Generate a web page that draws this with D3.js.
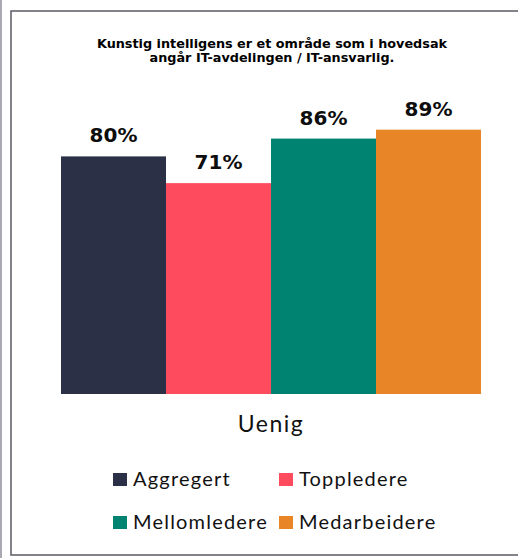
<!DOCTYPE html>
<html>
<head>
<meta charset="utf-8">
<script src="https://cdn.jsdelivr.net/npm/d3@7"></script>
<style>
  body { margin: 0; background: #fff; }
  svg { display: block; }
</style>
</head>
<body>
<div id="chart"></div>
<script>
  // data
  const groups = ["Aggregert", "Toppledere", "Mellomledere", "Medarbeidere"];
  const values = [80, 71, 86, 89];
  const category = "Uenig";
  const colors = ["#2c3046", "#ff4b5e", "#008370", "#e78527"];
  const titleLines = ["Kunstig intelligens er et område som i hovedsak", "angår IT-avdelingen / IT-ansvarlig."];

  const width = 518;
  const height = 558;

  const svg = d3.select("#chart")
    .append("svg")
    .attr("width", width)
    .attr("height", height);

  // frame
  svg.append("rect")
    .attr("x", 0).attr("y", 0)
    .attr("width", 2).attr("height", height)
    .attr("fill", "#a9a9b4");
  svg.append("rect")
    .attr("x", 11).attr("y", 11)
    .attr("width", width + 10).attr("height", 544)
    .attr("fill", "none")
    .attr("stroke", "#5a5a66")
    .attr("stroke-width", 1.5);

  // title
  svg.append("text")
    .attr("x", 272)
    .attr("y", 48)
    .attr("text-anchor", "middle")
    .style("font-family", "'DejaVu Sans', Verdana, sans-serif")
    .style("font-weight", "bold")
    .style("font-size", "12.8px")
    .selectAll("tspan")
    .data(titleLines)
    .enter()
    .append("tspan")
    .attr("x", 272)
    .attr("dy", (d, i) => i === 0 ? 0 : 13.5)
    .text(d => d);

  // scales
  const xScale = d3.scaleBand()
    .domain(groups)
    .range([61, 481])
    .padding(0);

  const yScale = d3.scaleLinear()
    .domain([0, 100])
    .range([394, 97]);

  const data = groups.map((g, i) => ({ group: g, value: values[i], color: colors[i] }));

  svg.selectAll("rect.bar")
    .data(data)
    .enter()
    .append("rect")
    .attr("class", "bar")
    .attr("x", d => xScale(d.group))
    .attr("y", d => yScale(d.value))
    .attr("width", xScale.bandwidth())
    .attr("height", d => yScale(0) - yScale(d.value))
    .attr("fill", d => d.color);

  // value labels
  svg.selectAll("text.val")
    .data(data)
    .enter()
    .append("text")
    .attr("class", "val")
    .attr("x", d => xScale(d.group) + xScale.bandwidth() / 2)
    .attr("y", d => yScale(d.value) - 14)
    .attr("text-anchor", "middle")
    .style("font-family", "'DejaVu Sans', Verdana, sans-serif")
    .style("font-weight", "bold")
    .style("font-size", "20px")
    .attr("fill", "#0d0d0d")
    .text(d => d.value + "%");

  // category label
  svg.append("text")
    .attr("x", 271)
    .attr("y", 432)
    .attr("text-anchor", "middle")
    .style("font-family", "Lato, 'Noto Sans', sans-serif")
    .style("font-size", "23px")
    .style("letter-spacing", "1.5px")
    .attr("fill", "#111")
    .text(category);

  // legend
  const legendPos = [[113, 473], [279, 473], [113, 516], [279, 516]];
  const legend = svg.selectAll("g.legend")
    .data(data)
    .enter()
    .append("g")
    .attr("class", "legend")
    .attr("transform", (d, i) => `translate(${legendPos[i][0]},${legendPos[i][1]})`);

  legend.append("rect")
    .attr("width", 14)
    .attr("height", 13)
    .attr("fill", d => d.color);

  legend.append("text")
    .attr("x", 20)
    .attr("y", 13)
    .style("font-family", "Lato, 'Noto Sans', sans-serif")
    .style("font-size", "20px")
    .style("letter-spacing", "1.2px")
    .attr("fill", "#111")
    .text(d => d.group);
</script>
</body>
</html>
